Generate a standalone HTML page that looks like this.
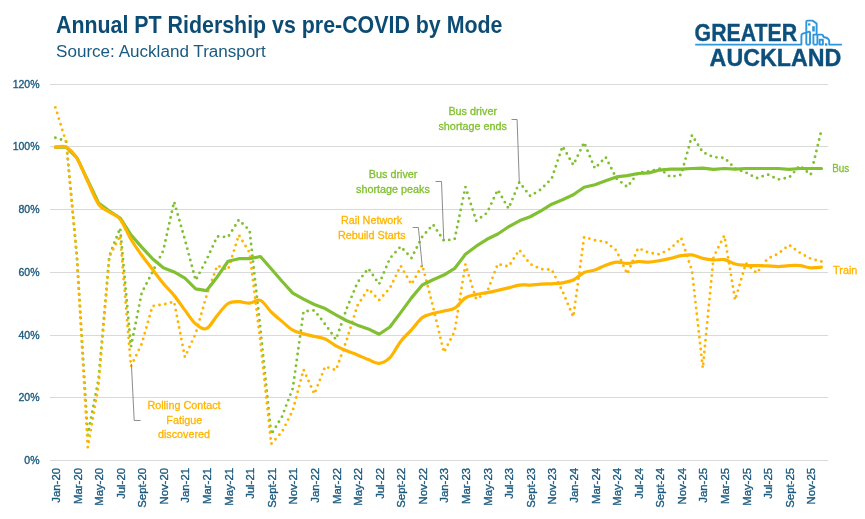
<!DOCTYPE html>
<html><head><meta charset="utf-8"><style>
html,body{margin:0;padding:0;background:#fff;overflow:hidden;}
svg{display:block;will-change:transform;}
</style></head><body>
<svg width="865" height="519" viewBox="0 0 865 519">
<rect width="865" height="519" fill="#ffffff"/>
<g stroke="#d9d9d9" stroke-width="1" shape-rendering="crispEdges"><line x1="50" y1="84.5" x2="827.5" y2="84.5"/><line x1="50" y1="146.5" x2="827.5" y2="146.5"/><line x1="50" y1="209.5" x2="827.5" y2="209.5"/><line x1="50" y1="272.5" x2="827.5" y2="272.5"/><line x1="50" y1="335.5" x2="827.5" y2="335.5"/><line x1="50" y1="397.5" x2="827.5" y2="397.5"/><line x1="50" y1="460.5" x2="827.5" y2="460.5"/></g>
<g font-family="Liberation Sans, sans-serif" font-size="10.5" fill="#1b5a7e" stroke="#1b5a7e" stroke-width="0.35" text-anchor="end"><text x="39.5" y="464.3">0%</text><text x="39.5" y="401.3">20%</text><text x="39.5" y="339.3">40%</text><text x="39.5" y="276.3">60%</text><text x="39.5" y="213.3">80%</text><text x="39.5" y="150.3">100%</text><text x="39.5" y="88.3">120%</text></g>
<g font-family="Liberation Sans, sans-serif" font-size="10.5" fill="#1b5a7e" stroke="#1b5a7e" stroke-width="0.35" text-anchor="end"><text transform="translate(60.00,468) rotate(-90)" x="0" y="0" textLength="34.67" lengthAdjust="spacingAndGlyphs">Jan-20</text><text transform="translate(81.58,468) rotate(-90)" x="0" y="0" textLength="35.92" lengthAdjust="spacingAndGlyphs">Mar-20</text><text transform="translate(103.16,468) rotate(-90)" x="0" y="0" textLength="37.81" lengthAdjust="spacingAndGlyphs">May-20</text><text transform="translate(124.74,468) rotate(-90)" x="0" y="0" textLength="30.88" lengthAdjust="spacingAndGlyphs">Jul-20</text><text transform="translate(146.32,468) rotate(-90)" x="0" y="0" textLength="39.72" lengthAdjust="spacingAndGlyphs">Sept-20</text><text transform="translate(167.90,468) rotate(-90)" x="0" y="0" textLength="36.55" lengthAdjust="spacingAndGlyphs">Nov-20</text><text transform="translate(189.48,468) rotate(-90)" x="0" y="0" textLength="34.67" lengthAdjust="spacingAndGlyphs">Jan-21</text><text transform="translate(211.06,468) rotate(-90)" x="0" y="0" textLength="35.92" lengthAdjust="spacingAndGlyphs">Mar-21</text><text transform="translate(232.64,468) rotate(-90)" x="0" y="0" textLength="37.81" lengthAdjust="spacingAndGlyphs">May-21</text><text transform="translate(254.22,468) rotate(-90)" x="0" y="0" textLength="30.88" lengthAdjust="spacingAndGlyphs">Jul-21</text><text transform="translate(275.80,468) rotate(-90)" x="0" y="0" textLength="39.72" lengthAdjust="spacingAndGlyphs">Sept-21</text><text transform="translate(297.38,468) rotate(-90)" x="0" y="0" textLength="36.55" lengthAdjust="spacingAndGlyphs">Nov-21</text><text transform="translate(318.96,468) rotate(-90)" x="0" y="0" textLength="34.67" lengthAdjust="spacingAndGlyphs">Jan-22</text><text transform="translate(340.54,468) rotate(-90)" x="0" y="0" textLength="35.92" lengthAdjust="spacingAndGlyphs">Mar-22</text><text transform="translate(362.12,468) rotate(-90)" x="0" y="0" textLength="37.81" lengthAdjust="spacingAndGlyphs">May-22</text><text transform="translate(383.70,468) rotate(-90)" x="0" y="0" textLength="30.88" lengthAdjust="spacingAndGlyphs">Jul-22</text><text transform="translate(405.28,468) rotate(-90)" x="0" y="0" textLength="39.72" lengthAdjust="spacingAndGlyphs">Sept-22</text><text transform="translate(426.86,468) rotate(-90)" x="0" y="0" textLength="36.55" lengthAdjust="spacingAndGlyphs">Nov-22</text><text transform="translate(448.44,468) rotate(-90)" x="0" y="0" textLength="34.67" lengthAdjust="spacingAndGlyphs">Jan-23</text><text transform="translate(470.02,468) rotate(-90)" x="0" y="0" textLength="35.92" lengthAdjust="spacingAndGlyphs">Mar-23</text><text transform="translate(491.60,468) rotate(-90)" x="0" y="0" textLength="37.81" lengthAdjust="spacingAndGlyphs">May-23</text><text transform="translate(513.18,468) rotate(-90)" x="0" y="0" textLength="30.88" lengthAdjust="spacingAndGlyphs">Jul-23</text><text transform="translate(534.76,468) rotate(-90)" x="0" y="0" textLength="39.72" lengthAdjust="spacingAndGlyphs">Sept-23</text><text transform="translate(556.34,468) rotate(-90)" x="0" y="0" textLength="36.55" lengthAdjust="spacingAndGlyphs">Nov-23</text><text transform="translate(577.92,468) rotate(-90)" x="0" y="0" textLength="34.67" lengthAdjust="spacingAndGlyphs">Jan-24</text><text transform="translate(599.50,468) rotate(-90)" x="0" y="0" textLength="35.92" lengthAdjust="spacingAndGlyphs">Mar-24</text><text transform="translate(621.08,468) rotate(-90)" x="0" y="0" textLength="37.81" lengthAdjust="spacingAndGlyphs">May-24</text><text transform="translate(642.66,468) rotate(-90)" x="0" y="0" textLength="30.88" lengthAdjust="spacingAndGlyphs">Jul-24</text><text transform="translate(664.24,468) rotate(-90)" x="0" y="0" textLength="39.72" lengthAdjust="spacingAndGlyphs">Sept-24</text><text transform="translate(685.82,468) rotate(-90)" x="0" y="0" textLength="36.55" lengthAdjust="spacingAndGlyphs">Nov-24</text><text transform="translate(707.40,468) rotate(-90)" x="0" y="0" textLength="34.67" lengthAdjust="spacingAndGlyphs">Jan-25</text><text transform="translate(728.98,468) rotate(-90)" x="0" y="0" textLength="35.92" lengthAdjust="spacingAndGlyphs">Mar-25</text><text transform="translate(750.56,468) rotate(-90)" x="0" y="0" textLength="37.81" lengthAdjust="spacingAndGlyphs">May-25</text><text transform="translate(772.14,468) rotate(-90)" x="0" y="0" textLength="30.88" lengthAdjust="spacingAndGlyphs">Jul-25</text><text transform="translate(793.72,468) rotate(-90)" x="0" y="0" textLength="39.72" lengthAdjust="spacingAndGlyphs">Sept-25</text><text transform="translate(815.30,468) rotate(-90)" x="0" y="0" textLength="36.55" lengthAdjust="spacingAndGlyphs">Nov-25</text></g>
<g fill="none" stroke-linejoin="round" stroke-linecap="round">
<polyline points="55.40,137.77 66.19,141.22 76.98,256.84 87.77,435.43 98.56,379.03 109.35,255.90 120.14,228.01 130.93,346.76 141.72,292.87 152.51,271.88 163.30,250.57 174.09,201.69 184.88,239.60 195.67,280.34 206.46,259.97 217.25,236.47 228.04,237.10 238.83,219.86 249.62,230.52 260.41,328.90 271.20,434.49 281.99,416.63 292.78,388.43 303.57,311.35 314.36,310.41 325.15,324.20 335.94,339.55 346.73,308.53 357.52,282.53 368.31,268.43 379.10,284.10 389.89,258.40 400.68,246.50 411.47,258.09 422.26,236.78 433.05,224.56 443.84,240.54 454.63,239.29 465.42,186.96 476.21,220.80 487.00,212.97 497.79,189.78 508.58,208.58 519.37,182.26 530.16,196.05 540.95,189.47 551.74,178.50 562.53,146.23 573.32,165.03 584.11,142.47 594.90,168.48 605.69,157.20 616.48,178.50 627.27,186.96 638.06,172.86 648.85,171.30 659.64,168.79 670.43,176.94 681.22,174.74 692.01,135.26 702.80,152.18 713.59,157.20 724.38,157.82 735.17,168.48 745.96,172.55 756.75,178.19 767.54,174.43 778.33,179.44 789.12,177.56 799.91,165.66 810.70,174.74 821.49,129.94" stroke="#80c031" stroke-width="2.9" stroke-dasharray="0 5.9"/>
<polyline points="55.40,107.38 66.19,142.47 76.98,259.34 87.77,447.34 98.56,385.30 109.35,256.84 120.14,235.53 130.93,366.50 141.72,343.94 152.51,306.03 163.30,304.46 174.09,301.64 184.88,357.10 195.67,333.60 206.46,296.00 217.25,265.61 228.04,270.00 238.83,234.90 249.62,252.76 260.41,341.43 271.20,443.89 281.99,431.99 292.78,410.37 303.57,369.63 314.36,394.07 325.15,366.50 335.94,370.26 346.73,339.87 357.52,305.40 368.31,288.80 379.10,300.08 389.89,288.17 400.68,265.92 411.47,284.41 422.26,264.98 433.05,306.65 443.84,352.40 454.63,331.41 465.42,264.36 476.21,299.14 487.00,292.24 497.79,264.04 508.58,266.55 519.37,249.94 530.16,264.04 540.95,269.06 551.74,269.68 562.53,291.30 573.32,316.99 584.11,237.10 594.90,240.23 605.69,241.80 616.48,250.57 627.27,274.07 638.06,248.06 648.85,252.76 659.64,254.33 670.43,248.69 681.22,238.04 692.01,270.94 702.80,368.07 713.59,256.84 724.38,235.53 735.17,300.08 745.96,263.10 756.75,273.13 767.54,258.72 778.33,253.70 789.12,244.93 799.91,252.76 810.70,258.72 821.49,261.54" stroke="#ffb500" stroke-width="2.9" stroke-dasharray="0 5.9"/>
<polyline points="55.40,147.17 66.19,147.17 76.98,157.82 87.77,180.38 98.56,202.94 109.35,211.09 120.14,217.98 130.93,234.90 141.72,247.12 152.51,258.72 163.30,267.80 174.09,271.88 184.88,278.14 195.67,288.80 206.46,290.68 217.25,276.89 228.04,261.22 238.83,258.72 249.62,258.72 260.41,256.52 271.20,268.74 281.99,281.28 292.78,293.18 303.57,299.14 314.36,304.46 325.15,308.53 335.94,314.80 346.73,320.75 357.52,325.14 368.31,328.90 379.10,334.23 389.89,327.02 400.68,312.61 411.47,297.88 422.26,285.04 433.05,279.71 443.84,275.01 454.63,268.43 465.42,254.33 476.21,246.18 487.00,239.29 497.79,233.96 508.58,226.76 519.37,220.80 530.16,216.73 540.95,210.78 551.74,204.20 562.53,199.81 573.32,194.80 584.11,187.28 594.90,184.77 605.69,180.70 616.48,176.94 627.27,175.68 638.06,173.49 648.85,172.86 659.64,170.04 670.43,169.10 681.22,169.10 692.01,168.48 702.80,168.16 713.59,169.42 724.38,168.48 735.17,169.10 745.96,168.48 756.75,168.48 767.54,168.48 778.33,168.48 789.12,169.42 799.91,168.48 810.70,168.48 821.49,168.48" stroke="#80c031" stroke-width="3.2"/>
<path d="M55.40,147.17 C57.20,147.17 62.59,145.29 66.19,147.17 C69.79,149.05 73.38,152.71 76.98,158.45 C80.58,164.19 84.17,174.01 87.77,181.64 C91.37,189.26 94.96,199.13 98.56,204.20 C102.16,209.26 105.75,209.52 109.35,212.03 C112.95,214.54 116.54,214.69 120.14,219.24 C123.74,223.78 127.33,233.28 130.93,239.29 C134.53,245.29 138.12,250.26 141.72,255.27 C145.32,260.28 148.91,264.67 152.51,269.37 C156.11,274.07 159.70,279.13 163.30,283.47 C166.90,287.80 170.49,290.94 174.09,295.38 C177.69,299.81 181.28,305.35 184.88,310.10 C188.48,314.85 192.07,320.81 195.67,323.89 C199.27,326.97 202.86,330.00 206.46,328.59 C210.06,327.18 213.65,319.61 217.25,315.43 C220.85,311.25 224.44,305.82 228.04,303.52 C231.64,301.22 235.23,301.69 238.83,301.64 C242.43,301.59 246.02,303.42 249.62,303.21 C253.22,303.00 256.81,298.93 260.41,300.39 C264.01,301.85 267.60,308.48 271.20,311.98 C274.80,315.48 278.39,318.35 281.99,321.38 C285.59,324.41 289.18,328.07 292.78,330.15 C296.38,332.24 299.97,332.87 303.57,333.91 C307.17,334.96 310.76,335.59 314.36,336.42 C317.96,337.26 321.55,337.36 325.15,338.93 C328.75,340.49 332.34,343.84 335.94,345.82 C339.54,347.81 343.13,349.32 346.73,350.83 C350.33,352.35 353.92,353.45 357.52,354.91 C361.12,356.37 364.71,358.20 368.31,359.61 C371.91,361.02 375.50,363.68 379.10,363.37 C382.70,363.05 386.29,361.38 389.89,357.73 C393.49,354.07 397.08,346.08 400.68,341.43 C404.28,336.79 407.87,333.81 411.47,329.84 C415.07,325.87 418.66,320.34 422.26,317.62 C425.86,314.91 429.45,314.64 433.05,313.55 C436.65,312.45 440.24,311.93 443.84,311.04 C447.44,310.15 451.03,310.41 454.63,308.22 C458.23,306.03 461.82,300.18 465.42,297.88 C469.02,295.58 472.61,295.32 476.21,294.44 C479.81,293.55 483.40,293.23 487.00,292.56 C490.60,291.88 494.19,291.15 497.79,290.36 C501.39,289.58 504.98,288.74 508.58,287.86 C512.18,286.97 515.77,285.51 519.37,285.04 C522.97,284.57 526.56,285.19 530.16,285.04 C533.76,284.88 537.35,284.30 540.95,284.10 C544.55,283.89 548.14,283.99 551.74,283.78 C555.34,283.57 558.93,283.47 562.53,282.84 C566.13,282.22 569.72,281.75 573.32,280.02 C576.92,278.30 580.51,274.17 584.11,272.50 C587.71,270.83 591.30,271.20 594.90,270.00 C598.50,268.79 602.09,266.60 605.69,265.30 C609.29,263.99 612.88,262.48 616.48,262.16 C620.08,261.85 623.67,263.52 627.27,263.42 C630.87,263.31 634.46,261.74 638.06,261.54 C641.66,261.33 645.25,262.32 648.85,262.16 C652.45,262.01 656.04,261.22 659.64,260.60 C663.24,259.97 666.83,259.24 670.43,258.40 C674.03,257.57 677.62,256.16 681.22,255.58 C684.82,255.01 688.41,254.49 692.01,254.96 C695.61,255.43 699.20,257.57 702.80,258.40 C706.40,259.24 709.99,259.76 713.59,259.97 C717.19,260.18 720.78,258.98 724.38,259.66 C727.98,260.33 731.57,263.10 735.17,264.04 C738.77,264.98 742.36,265.03 745.96,265.30 C749.56,265.56 753.15,265.50 756.75,265.61 C760.35,265.71 763.94,265.77 767.54,265.92 C771.14,266.08 774.73,266.60 778.33,266.55 C781.93,266.50 785.52,265.77 789.12,265.61 C792.72,265.45 796.31,265.24 799.91,265.61 C803.51,265.97 807.10,267.54 810.70,267.80 C814.30,268.06 819.69,267.28 821.49,267.18" stroke="#ffb500" stroke-width="3.2"/>
</g>
<g fill="none" stroke="#8c8c8c" stroke-width="1">
<polyline points="131.4,364 134.2,420.5 140.6,420.5"/>
<polyline points="412.7,227.5 418.4,227.5 422.3,267"/>
<polyline points="435.6,181.5 441.5,181.5 443.8,241"/>
<polyline points="511.5,119.5 517.1,119.5 519.3,182.5"/>
</g>
<g font-family="Liberation Sans, sans-serif" font-size="10.8" text-anchor="middle" stroke-width="0.3">
<text x="184" y="408.9" fill="#ffb500" stroke="#ffb500">Rolling Contact</text>
<text x="184.3" y="423.8" fill="#ffb500" stroke="#ffb500">Fatigue</text>
<text x="184" y="438.4" fill="#ffb500" stroke="#ffb500">discovered</text>
<text x="371.6" y="223.8" fill="#ffb500" stroke="#ffb500">Rail Network</text>
<text x="371.8" y="238.5" fill="#ffb500" stroke="#ffb500">Rebuild Starts</text>
<text x="393.1" y="178.2" fill="#80c031" stroke="#80c031">Bus driver</text>
<text x="393" y="193.2" fill="#80c031" stroke="#80c031">shortage peaks</text>
<text x="472.7" y="114.8" fill="#80c031" stroke="#80c031">Bus driver</text>
<text x="472.7" y="129.7" fill="#80c031" stroke="#80c031">shortage ends</text>
</g>
<g font-family="Liberation Sans, sans-serif" font-size="10.6">
<text x="832.2" y="171.7" fill="#80c031" stroke="#80c031" stroke-width="0.3" textLength="17" lengthAdjust="spacingAndGlyphs">Bus</text>
<text x="833.1" y="273.8" fill="#ffb500" stroke="#ffb500" stroke-width="0.3" textLength="24.3" lengthAdjust="spacingAndGlyphs">Train</text>
</g>
<text x="56" y="32.5" font-family="Liberation Sans, sans-serif" font-weight="bold" font-size="23.2" fill="#0c4c74" textLength="446.5" lengthAdjust="spacingAndGlyphs">Annual PT Ridership vs pre-COVID by Mode</text>
<text x="56" y="56.6" font-family="Liberation Sans, sans-serif" font-size="15.8" fill="#1a5a80" textLength="209.8" lengthAdjust="spacingAndGlyphs">Source: Auckland Transport</text>
<g>
<text x="694.6" y="40.5" font-family="Liberation Sans, sans-serif" font-weight="bold" font-size="23.3" fill="#0d4f7c" stroke="#0d4f7c" stroke-width="0.35" textLength="102.6" lengthAdjust="spacingAndGlyphs">GREATER</text>
<text x="709.6" y="65.5" font-family="Liberation Sans, sans-serif" font-weight="bold" font-size="23.3" fill="#0d4f7c" stroke="#0d4f7c" stroke-width="0.35" textLength="131.8" lengthAdjust="spacingAndGlyphs">AUCKLAND</text>
<g fill="none" stroke="#2f96db" stroke-width="1.9" stroke-linejoin="round">
<path d="M695.2,44.6 H801.4 V35.6 Q801.4,34.2 802.8,33.7 L810,31.4"/>
<path d="M806.3,44.6 V31.8 M810,31.4 V44.6 M806.3,44.6 H810"/>
<path d="M806.3,31.8 V21.7 Q806.3,20.6 807.4,20.6 H812.5 L816.6,23.5 V34.6"/>
<path d="M813.4,44.6 V34.6 H821.6 Q823.2,34.6 823.2,36.4 V37.2"/>
<path d="M817.4,34.6 V44.6 M813.4,44.6 H817.4"/>
<path d="M823.2,37 Q828.6,37.8 829.2,40.8 V44.6 H841.9"/>
<path d="M819.6,44.6 V39.8 H822.9 V44.6 Z"/>
</g>
<g fill="#2f96db">
<rect x="808" y="23.4" width="2.4" height="2.1"/>
<rect x="812.2" y="26.2" width="2.6" height="5.3"/>
<rect x="824.9" y="43.3" width="2.4" height="2.4"/>
</g>
</g>
</svg>
</body></html>
